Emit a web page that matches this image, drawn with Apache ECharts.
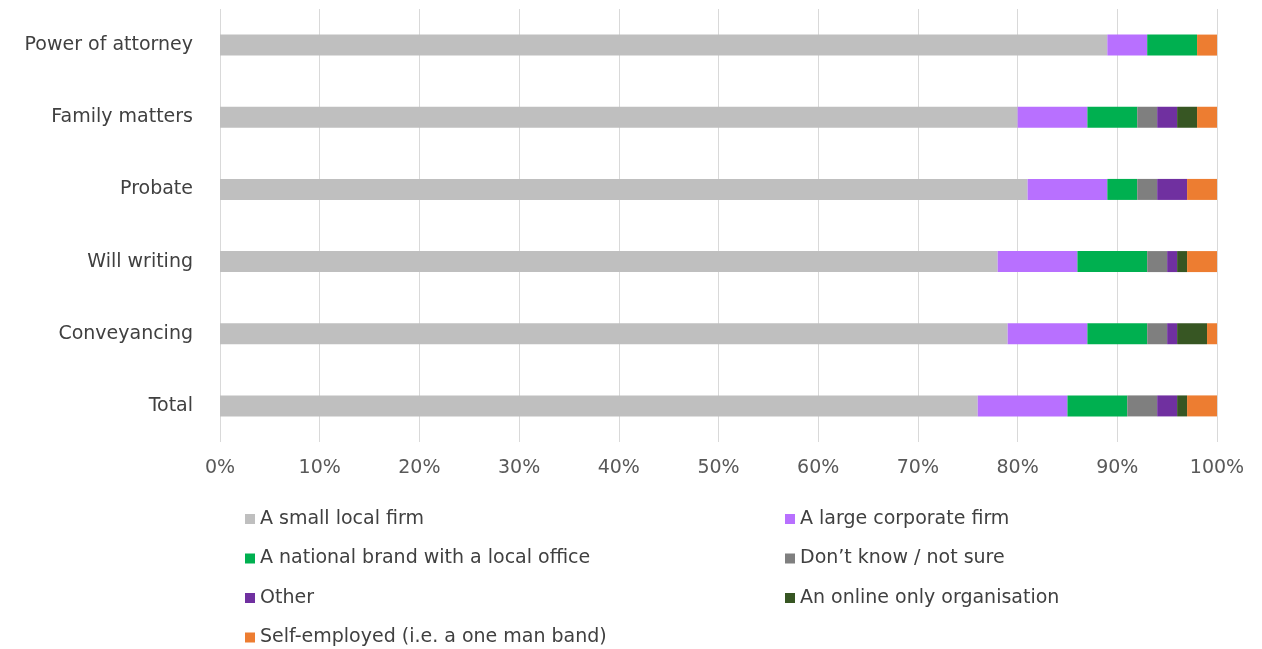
<!DOCTYPE html>
<html lang="en" style="height: 100%">
<head>
  <meta charset="utf-8">
</head>
<body style="height: 100%; margin: 0; background: #fff">
  <div id="container" style="width: 1262px; height: 649px"></div>
  <script type="text/javascript" src="https://cdn.jsdelivr.net/npm/echarts@6/dist/echarts.min.js"></script>
  <script type="text/javascript">
    // categories from bottom to top (category axis starts at the bottom)
    var categories = ['Total', 'Conveyancing', 'Will writing', 'Probate', 'Family matters', 'Power of attorney'];
    var seriesNames = [
      'A small local firm',
      'A large corporate firm',
      'A national brand with a local office',
      'Don\u2019t know / not sure',
      'Other',
      'An online only organisation',
      'Self-employed (i.e. a one man band)'
    ];
    var colors = ['#BFBFBF', '#B870FF', '#00B050', '#7F7F7F', '#7030A0', '#375623', '#ED7D31'];

    // values in %, same order as categories
    var smallLocal = [76, 79, 78, 81, 80, 89];
    var largeCorporate = [9, 8, 8, 8, 7, 4];
    var nationalBrand = [6, 6, 7, 3, 5, 5];
    var dontKnow = [3, 2, 2, 2, 2, 0];
    var other = [2, 1, 1, 3, 2, 0];
    var onlineOnly = [1, 3, 1, 0, 2, 0];
    var selfEmployed = [3, 1, 3, 3, 2, 2];

    var allValues = [smallLocal, largeCorporate, nationalBrand, dontKnow, other, onlineOnly, selfEmployed];
    var xTicks = [0, 10, 20, 30, 40, 50, 60, 70, 80, 90, 100];

    var dom = document.getElementById('container');
    var myChart = echarts.init(dom, null, { renderer: 'canvas' });

    var series = seriesNames.map(function (name, i) {
      return {
        name: name,
        type: 'bar',
        stack: 'total',
        barWidth: 21,
        data: allValues[i],
        itemStyle: { color: colors[i] },
        animation: false
      };
    });

    var legendText = { fontFamily: 'DejaVu Sans', fontSize: 19, color: '#404040', lineHeight: 20 };

    var option = {
      animation: false,
      grid: { left: 220, right: 45, top: 9, bottom: 207, containLabel: false },
      xAxis: {
        type: 'value',
        min: 0,
        max: 100,
        interval: 10,
        axisLine: { show: false },
        axisTick: { show: false },
        splitLine: { lineStyle: { color: '#D9D9D9', width: 1 } },
        axisLabel: {
          margin: 17,
          fontFamily: 'DejaVu Sans',
          fontSize: 19,
          color: '#595959',
          formatter: function (v) { return xTicks.indexOf(v) >= 0 ? v + '%' : ''; }
        }
      },
      yAxis: {
        type: 'category',
        data: categories,
        axisLine: { show: false },
        axisTick: { show: false },
        axisLabel: {
          margin: 27,
          fontFamily: 'DejaVu Sans',
          fontSize: 19,
          color: '#404040'
        }
      },
      legend: [
        {
          orient: 'vertical',
          left: 240,
          top: 504,
          height: 160,
          itemWidth: 10,
          itemHeight: 10,
          itemGap: 19.5,
          icon: 'rect',
          textStyle: legendText,
          data: [seriesNames[0], seriesNames[2], seriesNames[4], seriesNames[6]]
        },
        {
          orient: 'vertical',
          left: 780,
          top: 504,
          height: 160,
          itemWidth: 10,
          itemHeight: 10,
          itemGap: 19.5,
          icon: 'rect',
          textStyle: legendText,
          data: [seriesNames[1], seriesNames[3], seriesNames[5]]
        }
      ],
      series: series
    };

    myChart.setOption(option);
    window.addEventListener('resize', myChart.resize);
  </script>
</body>
</html>
